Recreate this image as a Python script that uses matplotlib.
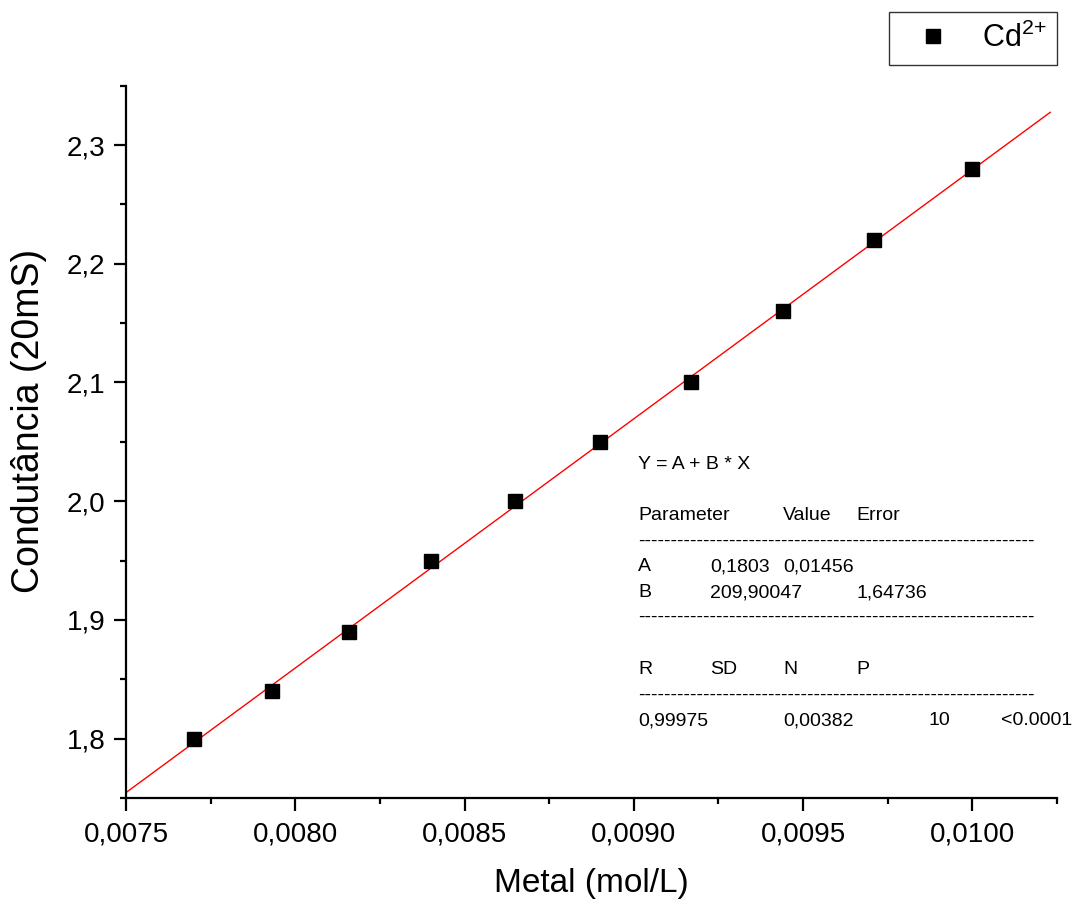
import numpy as np
import matplotlib.pyplot as plt
from matplotlib.ticker import MultipleLocator, FuncFormatter

plt.rcParams['font.family'] = ['Liberation Sans', 'DejaVu Sans']
plt.rcParams['mathtext.fontset'] = 'custom'
plt.rcParams['mathtext.rm'] = 'Liberation Sans'
plt.rcParams['mathtext.it'] = 'Liberation Sans:italic'

# Data
metal = [0.00770, 0.00793, 0.00816, 0.00840, 0.00865, 0.00890, 0.00917, 0.00944, 0.00971, 0.01000]
condutancia = [1.80, 1.84, 1.89, 1.95, 2.00, 2.05, 2.10, 2.16, 2.22, 2.28]

# Linear fit parameters as printed on the chart
fit_A = 0.1803
fit_B = 209.90047
fit_line_x = [0.0075, 0.01023]

fig = plt.figure(figsize=(10.77, 9.06), dpi=100)
ax = fig.add_axes([126 / 1077, 1 - 798 / 906, (1057 - 126) / 1077, (798 - 85.7) / 906])

# fit line and points
lx = np.array(fit_line_x)
ax.plot(lx, fit_A + fit_B * lx, color='red', lw=1.0, zorder=2)
ax.plot(metal, condutancia, 's', color='black', markersize=10,
        label=r'Cd$^{\mathrm{2{+}}}$', zorder=3)

ax.set_xlim(0.0075, 0.01025)
ax.set_ylim(1.75, 2.35)

ax.xaxis.set_major_locator(MultipleLocator(0.0005))
ax.xaxis.set_minor_locator(MultipleLocator(0.00025))
ax.yaxis.set_major_locator(MultipleLocator(0.1))
ax.yaxis.set_minor_locator(MultipleLocator(0.05))
ax.xaxis.set_major_formatter(FuncFormatter(lambda v, p: f"{v:.4f}".replace('.', ',')))
ax.yaxis.set_major_formatter(FuncFormatter(lambda v, p: f"{v:.1f}".replace('.', ',')))

for s in ['top', 'right']:
    ax.spines[s].set_visible(False)
for s in ['left', 'bottom']:
    ax.spines[s].set_linewidth(1.6)

ax.tick_params(which='major', direction='out', length=9, width=1.6, labelsize=20)
ax.tick_params(which='minor', direction='out', length=4.5, width=1.6)
ax.tick_params(axis='x', which='major', pad=8)
ax.tick_params(axis='y', which='major', pad=6)

ax.set_xlabel('Metal (mol/L)', fontsize=24)
ax.set_ylabel('Condutância (20mS)', fontsize=27)
ax.xaxis.set_label_coords(0.5, -0.098)
ax.yaxis.set_label_coords(-0.085, 0.53)

leg = ax.legend(loc='upper right', bbox_to_anchor=(1057 / 1077, 1 - 12 / 906),
                bbox_transform=fig.transFigure, fontsize=22, frameon=True,
                fancybox=False, edgecolor='black', borderaxespad=0,
                handlelength=2.16, handletextpad=0.52, borderpad=0.35, markerscale=1.0)
leg.get_frame().set_linewidth(1.0)

# fit results table
dashes = '-' * 61
fs = 14
def put(x, y, s):
    fig.text(x / 1077, 1 - y / 906, s, fontsize=fs, va='baseline', ha='left')

put(638, 469, "Y = A + B * X")
put(638, 520, "Parameter")
put(783, 520, "Value")
put(856, 520, "Error")
put(638, 546, dashes)
put(638, 571, "A")
put(710, 571, "0,1803")
put(783, 571, "0,01456")
put(638, 597, "B")
put(710, 597, "209,90047")
put(856, 597, "1,64736")
put(638, 622, dashes)
put(638, 674, "R")
put(710, 674, "SD")
put(783, 674, "N")
put(856, 674, "P")
put(638, 700, dashes)
put(638, 725, "0,99975")
put(783, 725, "0,00382")
put(928, 725, "10")
put(1001, 725, "<0.0001")

plt.savefig('out.png', dpi=100)
plt.close()
